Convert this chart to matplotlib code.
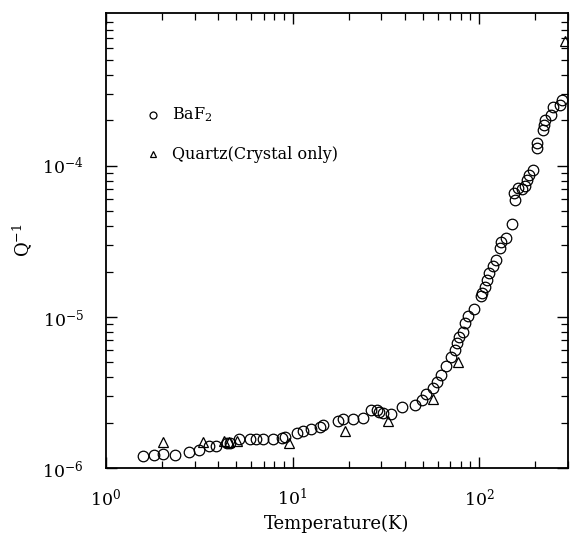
import matplotlib
matplotlib.use("Agg")
import matplotlib.pyplot as plt
from matplotlib.ticker import LogLocator, NullFormatter

# BaF2 data (Temperature K, Q^-1)
baf2_T = [1.58, 1.81, 2.02, 2.34, 2.79, 3.15, 3.57, 3.89, 4.45, 4.62, 5.17, 5.92,
          6.37, 6.95, 7.86, 8.79, 9.12, 10.6, 11.4, 12.6, 14.0, 14.6, 17.5, 18.7,
          21.1, 23.9, 26.4, 28.4, 29.1, 30.6, 33.8, 38.6, 45.4, 49.5, 52.0, 56.6,
          59.6, 62.5, 66.5, 70.8, 74.3, 76.2, 78.0, 82.0, 84.2, 87.3, 94.0, 102.5,
          103.7, 107.7, 110.4, 113.2, 118.9, 123.4, 129.6, 131.2, 139.6, 150.3,
          156.0, 154.1, 161.9, 170.1, 176.6, 180.9, 185.4, 194.8, 204.8, 204.8,
          220.4, 223.0, 225.9, 243.3, 249.5, 271.8, 278.6]
baf2_Q = [1.20e-6, 1.22e-6, 1.24e-6, 1.22e-6, 1.28e-6, 1.32e-6, 1.40e-6, 1.40e-6,
          1.47e-6, 1.47e-6, 1.56e-6, 1.56e-6, 1.56e-6, 1.56e-6, 1.56e-6, 1.58e-6,
          1.60e-6, 1.71e-6, 1.76e-6, 1.81e-6, 1.87e-6, 1.93e-6, 2.05e-6, 2.11e-6,
          2.11e-6, 2.14e-6, 2.42e-6, 2.42e-6, 2.35e-6, 2.31e-6, 2.28e-6, 2.53e-6,
          2.61e-6, 2.82e-6, 3.09e-6, 3.39e-6, 3.71e-6, 4.13e-6, 4.73e-6, 5.43e-6,
          6.04e-6, 6.73e-6, 7.40e-6, 8.00e-6, 9.12e-6, 1.02e-5, 1.13e-5, 1.38e-5,
          1.44e-5, 1.58e-5, 1.76e-5, 1.96e-5, 2.18e-5, 2.38e-5, 2.86e-5, 3.14e-5,
          3.33e-5, 4.13e-5, 5.96e-5, 6.62e-5, 7.15e-5, 7.04e-5, 7.38e-5, 8.08e-5,
          8.71e-5, 9.41e-5, 1.32e-4, 1.42e-4, 1.73e-4, 1.87e-4, 2.02e-4, 2.18e-4,
          2.46e-4, 2.54e-4, 2.74e-4]

# Quartz (crystal only)
quartz_T = [2.02, 3.31, 4.29, 4.57, 5.04, 9.58, 19.1, 32.5, 56.6, 77.2, 289.0]
quartz_Q = [1.49e-6, 1.49e-6, 1.51e-6, 1.49e-6, 1.51e-6, 1.47e-6, 1.76e-6,
            2.05e-6, 2.86e-6, 5.04e-6, 6.73e-4]

x_ticks = [1, 10, 100]
y_ticks = [1e-6, 1e-5, 1e-4]
x_label = "Temperature(K)"
y_label = r"$\mathregular{Q^{-1}}$"
legend_labels = [r"BaF$_2$", "Quartz(Crystal only)"]

plt.rcParams['font.family'] = ['DejaVu Serif']
plt.rcParams['mathtext.fontset'] = 'dejavuserif'

fig = plt.figure(figsize=(5.70, 5.33), dpi=100)
ax = fig.add_axes([106/570, 1-468/533, 462/570, 455/533])

ax.plot(baf2_T, baf2_Q, linestyle='none', marker='o', markersize=7.6,
        markerfacecolor='none', markeredgecolor='black', markeredgewidth=0.9)
ax.plot(quartz_T, quartz_Q, linestyle='none', marker='^', markersize=6.5,
        markerfacecolor='none', markeredgecolor='black', markeredgewidth=0.9)

ax.set_xscale('log')
ax.set_yscale('log')
ax.set_xlim(1, 300)
ax.set_ylim(1e-6, 1.03e-3)
ax.set_xticks(x_ticks)
ax.set_yticks(y_ticks)
ax.xaxis.set_minor_locator(LogLocator(base=10, subs=range(2, 10), numticks=20))
ax.yaxis.set_minor_locator(LogLocator(base=10, subs=range(2, 10), numticks=20))
ax.xaxis.set_minor_formatter(NullFormatter())
ax.yaxis.set_minor_formatter(NullFormatter())

ax.tick_params(which='both', direction='in', top=True, right=True, labelsize=12.5)
ax.tick_params(which='major', length=8, width=1.0)
ax.tick_params(which='minor', length=5, width=0.9)
ax.tick_params(axis='x', which='major', pad=14)
ax.tick_params(axis='y', which='major', pad=16)
for s in ax.spines.values():
    s.set_linewidth(1.3)

ax.set_xlabel(x_label, fontsize=13, labelpad=4)
ax.set_ylabel(y_label, fontsize=13, labelpad=6)

# legend drawn as markers + text in axes coordinates
ax.plot([0.102], [0.776], transform=ax.transAxes, linestyle='none', marker='o',
        markersize=5, markerfacecolor='none', markeredgecolor='black', markeredgewidth=0.9)
ax.text(0.143, 0.776, legend_labels[0], transform=ax.transAxes, fontsize=11.5,
        va='center', ha='left')
ax.plot([0.102], [0.690], transform=ax.transAxes, linestyle='none', marker='^',
        markersize=4.5, markerfacecolor='none', markeredgecolor='black', markeredgewidth=0.9)
ax.text(0.143, 0.690, legend_labels[1], transform=ax.transAxes, fontsize=11.5,
        va='center', ha='left')

fig.savefig("out.png", dpi=100)
